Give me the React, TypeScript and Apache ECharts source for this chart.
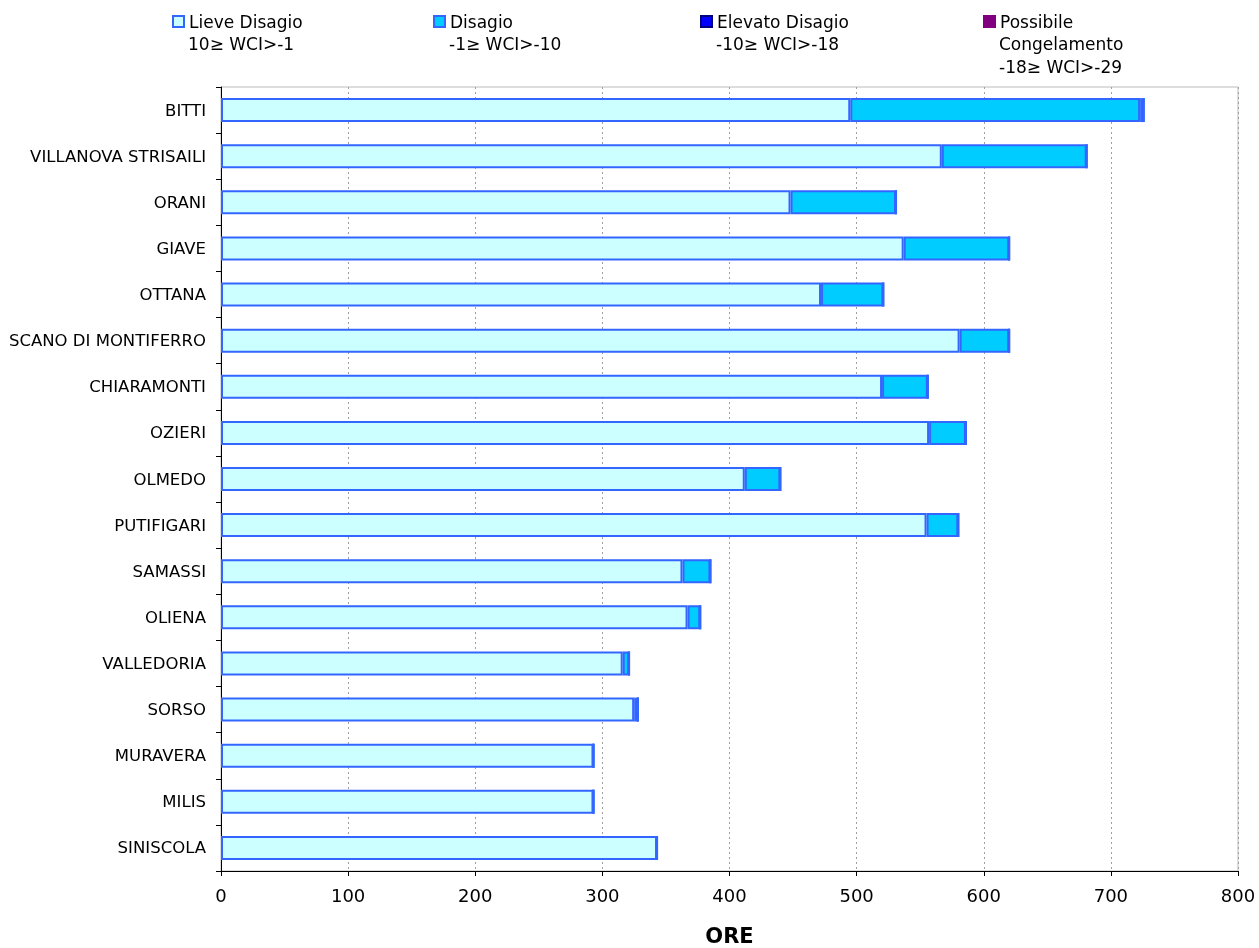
import React, { useEffect, useRef } from "react";
import * as echarts from "echarts";

const categories = [
  "BITTI",
  "VILLANOVA STRISAILI",
  "ORANI",
  "GIAVE",
  "OTTANA",
  "SCANO DI MONTIFERRO",
  "CHIARAMONTI",
  "OZIERI",
  "OLMEDO",
  "PUTIFIGARI",
  "SAMASSI",
  "OLIENA",
  "VALLEDORIA",
  "SORSO",
  "MURAVERA",
  "MILIS",
  "SINISCOLA",
];

const lieveDisagio = [495, 567, 448, 537, 472, 581, 520, 557, 412, 555, 363, 367, 316, 325, 293, 293, 343];
const disagio = [228, 114, 83, 83, 49, 39, 36, 29, 28, 25, 22, 10, 5, 3, 0, 0, 0];
const elevatoDisagio = [3, 0, 0, 0, 0, 0, 0, 0, 0, 0, 0, 0, 0, 0, 0, 0, 0];
const possibileCongelamento = [0, 0, 0, 0, 0, 0, 0, 0, 0, 0, 0, 0, 0, 0, 0, 0, 0];

const seriesNames = ["Lieve Disagio", "Disagio", "Elevato Disagio", "Possibile"];
const legendExtraLines = [["10≥ WCI>-1"], ["-1≥ WCI>-10"], ["-10≥ WCI>-18"], ["Congelamento", "-18≥ WCI>-29"]];
const xTicks = { min: 0, max: 800, interval: 100 };
const axisTitle = "ORE";

const FONT = "'DejaVu Sans', Verdana, sans-serif";
const BORDER = "#3366FF";
const fills = ["#CCFFFF", "#00CCFF", "#0000FF", "#800080"];
const iconBorders = ["#3366FF", "#3366FF", "#000080", "#800080"];
const legendLeft = [172, 433, 700, 983];

export default function App() {
  const ref = useRef<HTMLDivElement>(null);
  useEffect(() => {
    if (!ref.current) return;
    const chart = echarts.init(ref.current, undefined, { renderer: "svg" });
    const dataSets = [lieveDisagio, disagio, elevatoDisagio, possibileCongelamento];

    const graphics: any[] = [];
    legendExtraLines.forEach((lines, i) => {
      lines.forEach((t, j) => {
        graphics.push({
          type: "text",
          left: legendLeft[i] + 16,
          top: 35 + j * 23,
          style: { text: t, font: `17px ${FONT}`, fill: "#000" },
        });
      });
    });

    chart.setOption({
      animation: false,
      textStyle: { fontFamily: FONT },
      legend: seriesNames.map((n, i) => ({
        data: [{ name: n, itemStyle: { borderColor: iconBorders[i], borderWidth: 2 } }],
        left: legendLeft[i],
        top: 13,
        padding: 0,
        icon: "rect",
        itemWidth: 11,
        itemHeight: 11,
        selectedMode: false,
        textStyle: { fontSize: 17, color: "#000", fontFamily: FONT },
      })),
      graphic: graphics,
      grid: {
        left: 221,
        right: 21,
        top: 87,
        bottom: 77,
        containLabel: false,
        outerBoundsMode: "none",
        show: true,
        borderColor: "#bbbbbb",
        borderWidth: 1,
      },
      xAxis: {
        type: "value",
        min: xTicks.min,
        max: xTicks.max,
        interval: xTicks.interval,
        name: axisTitle,
        nameLocation: "middle",
        nameGap: 54,
        nameTextStyle: { fontSize: 21, fontWeight: "bold", color: "#000", fontFamily: FONT },
        axisLine: { show: true, lineStyle: { color: "#000", width: 1 } },
        axisTick: { show: true, length: 5, lineStyle: { color: "#000" } },
        axisLabel: { fontSize: 18, color: "#000", margin: 15, fontFamily: FONT },
        splitLine: { show: true, lineStyle: { color: "#a0a0a0", type: [2, 3], width: 1 } },
      },
      yAxis: {
        type: "category",
        data: categories,
        inverse: true,
        axisLine: { show: true, lineStyle: { color: "#000", width: 1 } },
        axisTick: { show: true, length: 5, inside: false, lineStyle: { color: "#000" } },
        axisLabel: { fontSize: 16.5, color: "#000", margin: 15, fontFamily: FONT },
        splitLine: { show: false },
      },
      series: seriesNames.map((n, i) => ({
        name: n,
        type: "bar",
        stack: "total",
        data: dataSets[i],
        barWidth: 24,
        itemStyle: { color: fills[i], borderColor: BORDER, borderWidth: 2 },
      })),
    });
    return () => chart.dispose();
  }, []);
  return (
    <div
      ref={ref}
      style={{ position: "fixed", left: 0, top: 0, width: 1259, height: 948 }}
    />
  );
}
